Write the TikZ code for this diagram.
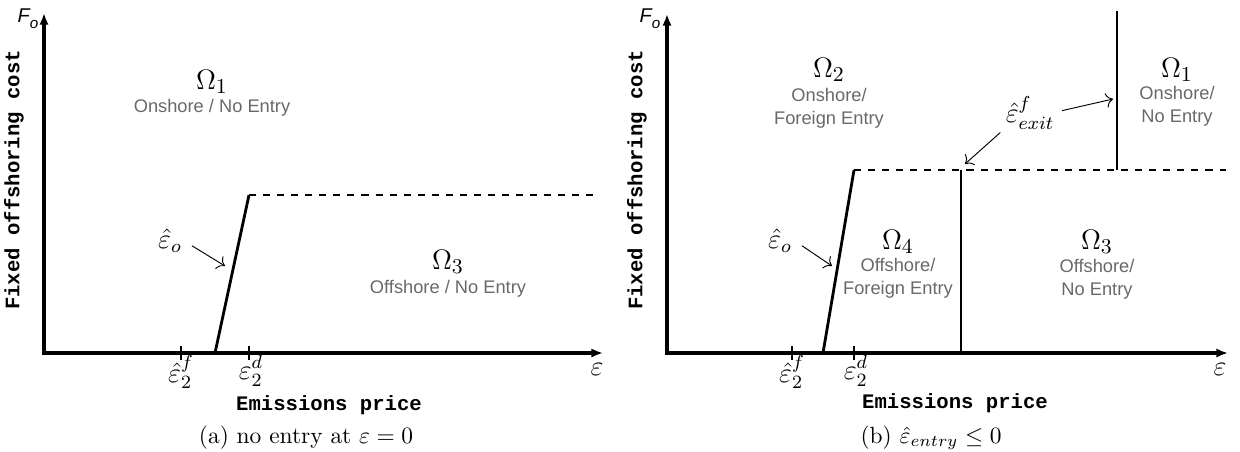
\documentclass[tikz,border=0pt]{standalone}
\usepackage{fontspec}
\newfontfamily\regionfont{Liberation Sans}
\newfontfamily\axisfont{Liberation Mono}
\usetikzlibrary{arrows.meta}
\definecolor{regiongray}{RGB}{105,105,105}

\begin{document}
\begin{tikzpicture}[x=0.015cm, y=-0.015cm, line width=0.6pt,
  axis/.style={line width=1.4pt, {Latex[length=5pt,width=4pt]}-{Latex[length=5pt,width=4pt]}},
  bound/.style={line width=1.2pt},
  dashbound/.style={dashed, line width=0.5pt},
  tickmark/.style={line width=0.8pt},
  pointer/.style={line width=0.4pt, -{To[length=3pt]}},
  omega/.style={font=\fontsize{13}{13}\selectfont, inner sep=0pt},
  region/.style={font=\regionfont\fontsize{7.8}{9.8}\selectfont, text=regiongray, align=center, inner sep=0pt},
  axtitle/.style={font=\axisfont\bfseries\fontsize{8.8}{10}\selectfont, inner sep=0pt},
  mathlbl/.style={font=\fontsize{12}{12}\selectfont, inner sep=0pt},
  fo/.style={font=\regionfont\itshape\fontsize{8.5}{8.5}\selectfont, inner sep=0pt},
  caption/.style={font=\fontsize{10}{12}\selectfont, inner sep=0pt}]
  \useasboundingbox (0,0) rectangle (1240,451);

  % (a) no entry at zero price
  \coordinate (a0) at (44,353);
  \coordinate (aY) at (44,13);
  \coordinate (aX) at (603,353);
  \draw[axis] (aY) -- (a0) -- (aX);
  \coordinate (aT1) at (181,353);
  \coordinate (aT2) at (249,353);
  \draw[tickmark] ([yshift=3pt]aT1) -- ([yshift=-3pt]aT1);
  \draw[tickmark] ([yshift=3pt]aT2) -- ([yshift=-3pt]aT2);
  \coordinate (aB) at (215,353);
  \coordinate (aK) at (249,195);
  \coordinate (aD) at (600,195);
  \draw[bound] (aB) -- (aK);
  \draw[dashbound] (aK) -- (aD);
  \node[omega] (aOm1) at (212,82) {$\Omega_1$};
  \node[region] (aR1) at (212,108) {Onshore / No Entry};
  \node[omega] (aOm3) at (448,262) {$\Omega_3$};
  \node[region] (aR3) at (448,289) {Offshore / No Entry};
  \node[mathlbl] (aEo) at (170,241) {$\hat{\varepsilon}_o$};
  \coordinate (aEoTip) at (225,266);
  \draw[pointer] ([shift={(4pt,-2pt)}]aEo.east) -- (aEoTip);
  \node[mathlbl] (aL1) at (181,372) {$\hat{\varepsilon}_2^f$};
  \node[mathlbl] (aL2) at (251,371) {$\varepsilon_2^d$};
  \node[mathlbl] (aEps) at (597,369) {$\varepsilon$};
  \node[fo] (aFo) at (28,19) {F\raisebox{-2.5pt}{\fontsize{6.5}{6.5}\selectfont o}};
  \node[axtitle, rotate=90] (aYT) at (14,180) {Fixed offshoring cost};
  \node[axtitle] (aXT) at (329,405) {Emissions price};
  \node[caption] (aCap) at (306,438) {(a) no entry at $\varepsilon=0$};

  % (b) entry price not positive
  \coordinate (b0) at (667,353);
  \coordinate (bY) at (667,14);
  \coordinate (bX) at (1228,353);
  \draw[axis] (bY) -- (b0) -- (bX);
  \coordinate (bT1) at (792,353);
  \coordinate (bT2) at (854,353);
  \draw[tickmark] ([yshift=3pt]bT1) -- ([yshift=-3pt]bT1);
  \draw[tickmark] ([yshift=3pt]bT2) -- ([yshift=-3pt]bT2);
  \coordinate (bB) at (823,353);
  \coordinate (bK) at (854,170);
  \coordinate (bD) at (1226,170);
  \coordinate (bV) at (961,170);
  \coordinate (bVb) at (961,353);
  \coordinate (bW) at (1117,170);
  \coordinate (bWt) at (1117,11);
  \draw[bound] (bB) -- (bK);
  \draw[dashbound] (bK) -- (bD);
  \draw[bound] (bV) -- (bVb);
  \draw[bound] (bW) -- (bWt);
  \node[omega] (bOm2) at (829,70) {$\Omega_2$};
  \node[region] (bR2) at (829,108) {Onshore/\\Foreign Entry};
  \node[omega] (bOm1) at (1177,70) {$\Omega_1$};
  \node[region] (bR1) at (1177,106) {Onshore/\\No Entry};
  \node[omega] (bOm4) at (898,242) {$\Omega_4$};
  \node[region] (bR4) at (898,278) {Offshore/\\Foreign Entry};
  \node[omega] (bOm3) at (1097,242) {$\Omega_3$};
  \node[region] (bR3) at (1097,279) {Offshore/\\No Entry};
  \node[mathlbl] (bEo) at (780,241) {$\hat{\varepsilon}_o$};
  \coordinate (bEoTip) at (832,266);
  \draw[pointer] ([shift={(4pt,-2pt)}]bEo.east) -- (bEoTip);
  \node[mathlbl] (bEx) at (1030,113) {$\hat{\varepsilon}^f_{exit}$};
  \coordinate (bExTip1) at (1113,99);
  \coordinate (bExTip2) at (965,164);
  \draw[pointer] ([shift={(3pt,1pt)}]bEx.east) -- (bExTip1);
  \draw[pointer] ([shift={(-2pt,-1pt)}]bEx.south west) -- (bExTip2);
  \node[mathlbl] (bL1) at (792,372) {$\hat{\varepsilon}_2^f$};
  \node[mathlbl] (bL2) at (856,371) {$\varepsilon_2^d$};
  \node[mathlbl] (bEps) at (1220,369) {$\varepsilon$};
  \node[fo] (bFo) at (650,19) {F\raisebox{-2.5pt}{\fontsize{6.5}{6.5}\selectfont o}};
  \node[axtitle, rotate=90] (bYT) at (637,180) {Fixed offshoring cost};
  \node[axtitle] (bXT) at (955,403) {Emissions price};
  \node[caption] (bCap) at (931,438) {(b) $\hat{\varepsilon}_{entry}\leq 0$};
\end{tikzpicture}
\end{document}
